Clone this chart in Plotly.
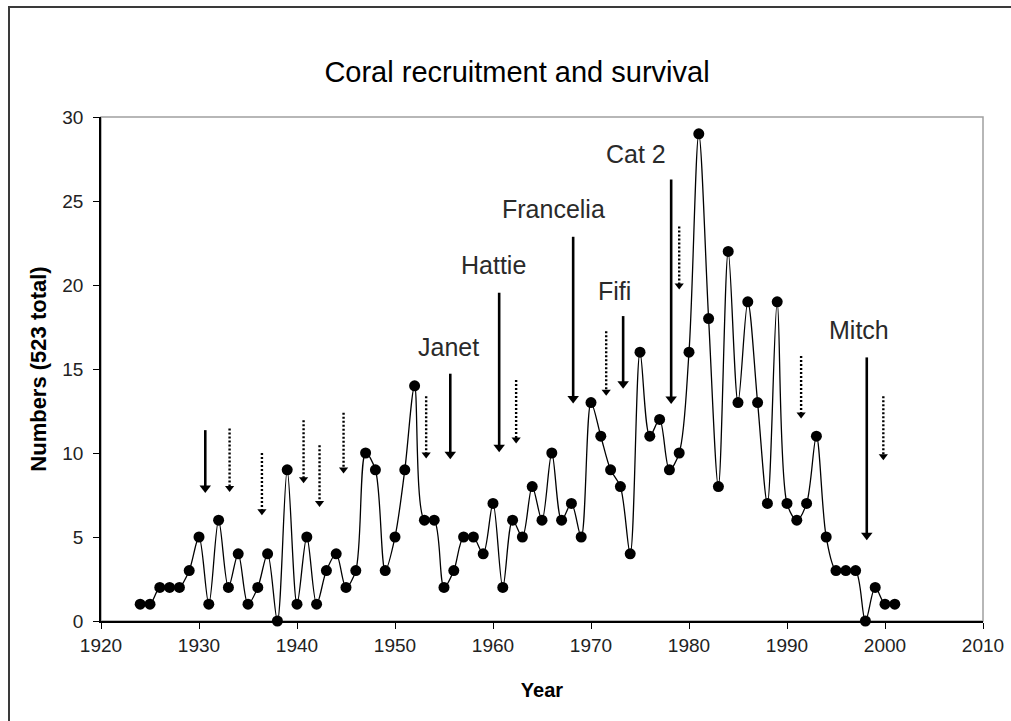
import plotly.graph_objects as go

# ---------------- data ----------------
years = list(range(1924, 2002))
numbers = [1, 1, 2, 2, 2, 3, 5, 1, 6, 2,
           4, 1, 2, 4, 0, 9, 1, 5, 1, 3,
           4, 2, 3, 10, 9, 3, 5, 9, 14, 6,
           6, 2, 3, 5, 5, 4, 7, 2, 6, 5,
           8, 6, 10, 6, 7, 5, 13, 11, 9, 8,
           4, 16, 11, 12, 9, 10, 16, 29, 18, 8,
           22, 13, 19, 13, 7, 19, 7, 6, 7, 11,
           5, 3, 3, 3, 0, 2, 1, 1]

x_ticks = [1920, 1930, 1940, 1950, 1960, 1970, 1980, 1990, 2000, 2010]
y_ticks = [0, 5, 10, 15, 20, 25, 30]

hurricane_names = ["Janet", "Hattie", "Francelia", "Fifi", "Cat 2", "Mitch"]
hurricane_label_x = [1955.5, 1960.05, 1966.2, 1972.4, 1974.6, 1997.3]
hurricane_label_y = [16.3, 21.2, 24.5, 19.65, 27.8, 17.3]

solid_x = [1930.64, 1955.64, 1960.63, 1968.18, 1973.28, 1978.18, 1998.14]
solid_top = [11.36, 14.72, 19.54, 22.87, 18.15, 26.28, 15.69]
solid_tip = [7.62, 9.63, 10.05, 12.94, 13.82, 12.91, 4.81]

dotted_x = [1933.12, 1936.42, 1940.67, 1942.3, 1944.75, 1953.18,
            1962.36, 1971.55, 1979.0, 1991.44, 1999.83]
dotted_top = [11.46, 10.0, 11.95, 10.46, 12.39, 13.38,
              14.34, 17.24, 23.48, 15.77, 13.38]
dotted_tip = [7.68, 6.30, 8.20, 6.79, 8.78, 9.67,
              10.57, 13.41, 19.73, 12.05, 9.57]

# ---------------- layout constants ----------------
W, H = 1011, 721
ML, MR, MT, MB = 101, 28, 117, 100
plot_h = H - MT - MB
units_per_px = 30.0 / plot_h

FONT = "Liberation Sans, Arial, sans-serif"

fig = go.Figure()


def add_arrows(xs, tops, tips, dash, width, head):
    r = head / 2.0
    off = r * units_per_px
    lx, ly = [], []
    for x, t, b in zip(xs, tops, tips):
        lx += [x, x, None]
        ly += [t, b + off, None]
    fig.add_trace(go.Scatter(x=lx, y=ly, mode="lines",
                             line=dict(color="black", width=width, dash=dash),
                             hoverinfo="skip", showlegend=False))
    fig.add_trace(go.Scatter(x=xs, y=[b + off for b in tips], mode="markers",
                             marker=dict(symbol="triangle-down", size=head,
                                         color="black", line=dict(width=0)),
                             hoverinfo="skip", showlegend=False))


add_arrows(dotted_x, dotted_top, dotted_tip, "2px,2px", 2.4, 8)
add_arrows(solid_x, solid_top, solid_tip, "solid", 2.6, 10)

fig.add_trace(go.Scatter(
    x=years, y=numbers, mode="lines+markers",
    line=dict(color="black", width=1.3, shape="spline", smoothing=0.9),
    marker=dict(symbol="circle", size=11, color="black"),
    cliponaxis=False, showlegend=False))

for name, lx, ly in zip(hurricane_names, hurricane_label_x, hurricane_label_y):
    fig.add_annotation(x=lx, y=ly, text=name, showarrow=False,
                       xanchor="center", yanchor="middle",
                       font=dict(family=FONT, size=25, color="#2a2a2a"))

# outer chart frame and plot area border
fig.add_shape(type="rect", xref="paper", yref="paper",
              x0=(9 - ML) / (W - ML - MR), x1=1.1,
              y0=-0.4, y1=(H - MB - 7) / plot_h,
              line=dict(color="#3a3a3a", width=2), layer="below")
fig.add_shape(type="rect", xref="paper", yref="paper",
              x0=0, x1=1, y0=0, y1=1,
              line=dict(color="#a0a0a0", width=1.5), layer="below")

fig.update_layout(
    width=W, height=H,
    margin=dict(l=ML, r=MR, t=MT, b=MB, autoexpand=False),
    paper_bgcolor="white", plot_bgcolor="white",
    title=dict(text="Coral recruitment and survival",
               x=(517 - ML) / (W - ML - MR), xref="paper", xanchor="center",
               y=1 - 72 / H, yref="container", yanchor="middle",
               font=dict(family=FONT, size=29, color="black")),
    xaxis=dict(range=[1920, 2010], tickvals=x_ticks, ticktext=[str(v) for v in x_ticks],
               automargin=False,
               showgrid=False, zeroline=False, showline=True, linecolor="black",
               linewidth=1.5, ticks="outside", ticklen=6, tickcolor="black",
               tickfont=dict(family=FONT, size=19, color="#222"),
               title=dict(text="<b>Year</b>", standoff=28,
                          font=dict(family=FONT, size=20, color="black"))),
    yaxis=dict(range=[0, 30], tickvals=y_ticks, ticktext=[str(v) for v in y_ticks],
               automargin=False, ticklabelstandoff=6,
               showgrid=False, zeroline=False, showline=True, linecolor="black",
               linewidth=1.5, ticks="outside", ticklen=6, tickcolor="black",
               tickfont=dict(family=FONT, size=19, color="#222"),
               title=dict(text="<b>Numbers (523 total)</b>", standoff=10,
                          font=dict(family=FONT, size=22, color="black"))),
)

fig.write_html("out.html", config={"displayModeBar": False},
               post_script="document.body.style.margin='0';")
